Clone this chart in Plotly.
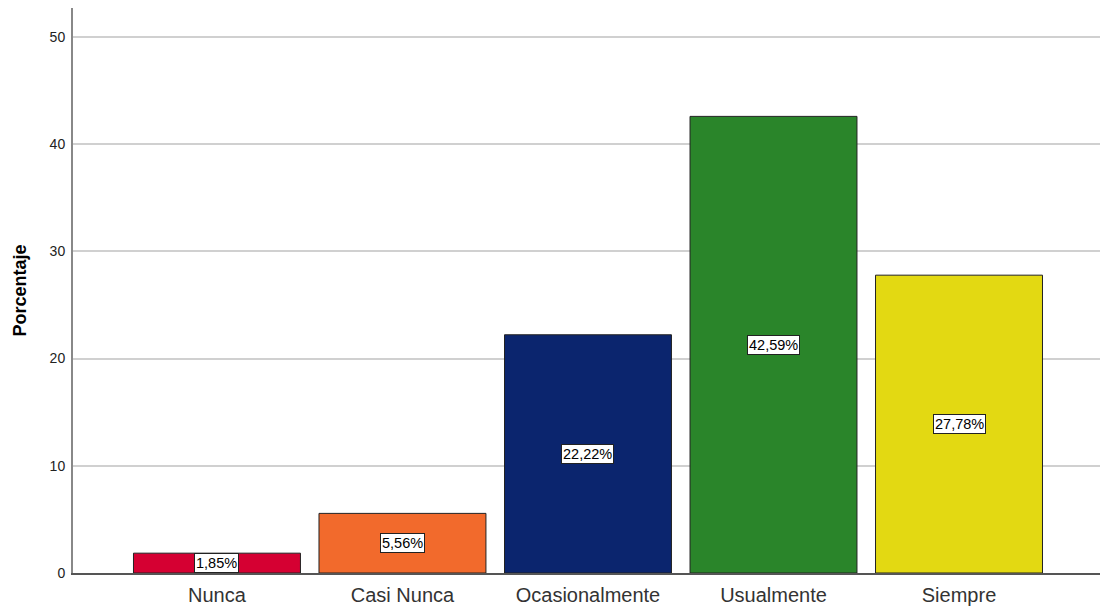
import plotly.graph_objects as go

categories = ["Nunca", "Casi Nunca", "Ocasionalmente", "Usualmente", "Siempre"]
values = [1.85, 5.56, 22.22, 42.59, 27.78]
labels = ["1,85%", "5,56%", "22,22%", "42,59%", "27,78%"]
colors = ["#D50032", "#F26A2C", "#0B256E", "#2A852A", "#E3D912"]
y_ticks = [0, 10, 20, 30, 40, 50]

fig = go.Figure()
fig.add_trace(go.Bar(
    x=categories, y=values, width=0.9,
    marker=dict(color=colors, line=dict(color="#222222", width=1)),
    hoverinfo="skip",
))

for c, v, t in zip(categories, values, labels):
    fig.add_annotation(
        x=c, y=v / 2, text=t, showarrow=False,
        font=dict(family="Arial, Liberation Sans", size=14.5, color="black"),
        bgcolor="white", bordercolor="#222222", borderwidth=1, borderpad=1,
    )

fig.update_layout(
    width=1100, height=610,
    margin=dict(l=73, r=0, t=8, b=37, autoexpand=False),
    plot_bgcolor="white", paper_bgcolor="white",
    showlegend=False,
    font=dict(family="Arial, Liberation Sans", color="#222222"),
    xaxis=dict(
        type="category", range=[-0.776, 4.76], automargin=False,
        showline=True, linecolor="#555555", linewidth=1.5,
        showgrid=False, ticks="", ticklen=0, ticklabelstandoff=3,
        tickfont=dict(size=20, color="#333333"),
    ),
    yaxis=dict(
        range=[0, 52.7], tickvals=y_ticks, automargin=False,
        showline=True, linecolor="#888888", linewidth=2,
        showgrid=True, gridcolor="#D0D0D0", gridwidth=1.5,
        ticks="", zeroline=False, ticklabelstandoff=3,
        tickfont=dict(size=14, color="#222222"),
        title=dict(text="<b>Porcentaje</b>", font=dict(size=18, color="black"), standoff=18),
    ),
)

fig.write_html(
    "out.html",
    config={"displayModeBar": False},
    post_script="document.body.style.margin='0';document.body.style.overflow='hidden';",
)
